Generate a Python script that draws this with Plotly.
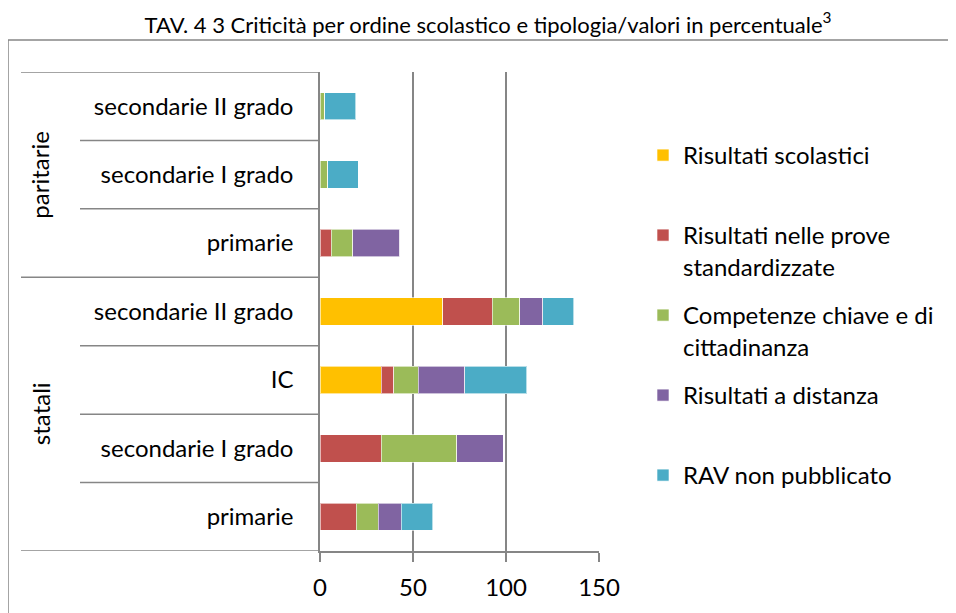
import plotly.graph_objects as go

# ---- data ----
categories = ["primarie", "secondarie I grado", "IC", "secondarie II grado",
              "primarie", "secondarie I grado", "secondarie II grado"]
groups = ["statali", "paritarie"]
series_names = ["Risultati scolastici", "Risultati nelle prove<br>standardizzate",
                "Competenze chiave e di<br>cittadinanza", "Risultati a distanza",
                "RAV non pubblicato"]
risultati_scolastici = [0, 0, 33, 66, 0, 0, 0]
prove_standardizzate = [19.5, 33, 6.6, 26.7, 6.1, 0, 0]
competenze_chiave = [11.9, 40.6, 13.3, 14.6, 11.6, 4.1, 2.5]
risultati_distanza = [12.3, 24.9, 24.9, 12.5, 25.3, 0, 0]
rav_non_pubblicato = [16.9, 0, 33.3, 16.5, 0, 16.5, 16.8]
colors = ["#FFC000", "#C0504D", "#9BBB59", "#8064A2", "#4BACC6"]
x_ticks = [0, 50, 100, 150]

series_values = [risultati_scolastici, prove_standardizzate, competenze_chiave,
                 risultati_distanza, rav_non_pubblicato]

FONT = "Lato"
FS = 24
GREY = "#868686"
OFF = 8  # page body margin
W, H = 956 - OFF, 613 - OFF
# plot area in screen px
SL, SR, ST, SB = 320, 599, 72, 551
L, R, T, B = SL - OFF, SR - OFF, ST - OFF, SB - OFF


def sx(px):
    """screen x px -> paper x"""
    return (px - SL) / (SR - SL)


def sy(py):
    """screen y px -> paper y"""
    return (SB - py) / (SB - ST)


pos = list(range(len(categories)))
fig = go.Figure()
legend_centers = [155, 235, 315, 395, 475]
for i, (name, vals, col) in enumerate(zip(series_names, series_values, colors)):
    lg = "legend" if i == 0 else f"legend{i+1}"
    fig.add_trace(go.Bar(
        x=vals, y=pos, orientation="h", name=name,
        marker=dict(color=col, line=dict(color="rgba(255,255,255,0.6)", width=1)),
        legend=lg, hoverinfo="x+name",
    ))

layout_legends = {}
for i, cy in enumerate(legend_centers):
    key = "legend" if i == 0 else f"legend{i+1}"
    layout_legends[key] = dict(
        x=sx(643), xanchor="left",
        y=sy(cy - 22), yanchor="top",
        font=dict(family=FONT, size=FS, color="#000"),
        bgcolor="rgba(0,0,0,0)", valign="top", itemwidth=30,
    )

shapes = []
# outer border
shapes.append(dict(type="rect", xref="paper", yref="paper",
                   x0=sx(8), x1=sx(1000),
                   y0=sy(700), y1=sy(40),
                   line=dict(color=GREY, width=1.5)))
# group dividers (long)
for yv in [-0.5, 3.5, 6.5]:
    shapes.append(dict(type="line", xref="paper", yref="y",
                       x0=sx(21), x1=0, y0=yv, y1=yv,
                       line=dict(color=GREY, width=1.5)))
# category dividers (short)
for yv in [0.5, 1.5, 2.5, 4.5, 5.5]:
    shapes.append(dict(type="line", xref="paper", yref="y",
                       x0=sx(80), x1=0, y0=yv, y1=yv,
                       line=dict(color=GREY, width=1.5)))

annotations = [
    dict(text="paritarie", x=sx(40), y=5, xref="paper", yref="y",
         xanchor="center", yanchor="middle",
         textangle=-90, showarrow=False, font=dict(family=FONT, size=FS, color="#000")),
    dict(text="statali", x=sx(40), y=1.5, xref="paper", yref="y",
         xanchor="center", yanchor="middle",
         textangle=-90, showarrow=False, font=dict(family=FONT, size=FS, color="#000")),
]

fig.update_layout(
    width=W, height=H,
    margin=dict(l=L, r=W - R, t=T, b=H - B, autoexpand=False),
    barmode="stack", bargap=0.6,
    plot_bgcolor="white", paper_bgcolor="white",
    title=dict(text="TAV. 4 3 Criticità per ordine scolastico e tipologia/valori in percentuale<sup>3</sup>",
               x=(488 - OFF) / W, xanchor="center", y=1 - (25 - OFF) / H, yanchor="middle",
               font=dict(family=FONT, size=22, color="#000")),
    font=dict(family=FONT, size=FS, color="#000"),
    shapes=shapes, annotations=annotations,
    showlegend=True,
    **layout_legends,
)
fig.update_xaxes(range=[0, 150], tickvals=x_ticks, ticktext=[str(v) for v in x_ticks],
                 showgrid=True, gridcolor=GREY, gridwidth=1.5,
                 showline=True, linecolor=GREY, linewidth=1.5,
                 ticks="outside", ticklen=9, tickcolor=GREY, tickwidth=1.5,
                 zeroline=False, tickfont=dict(family=FONT, size=FS, color="#000"),
                 ticklabelstandoff=5)
fig.update_yaxes(range=[-0.5, 6.5], tickvals=pos, ticktext=categories,
                 showgrid=False, zeroline=False,
                 showline=True, linecolor=GREY, linewidth=1.5,
                 ticks="", ticklabelstandoff=20,
                 tickfont=dict(family=FONT, size=FS, color="#000"))

fig.write_html("out.html")
